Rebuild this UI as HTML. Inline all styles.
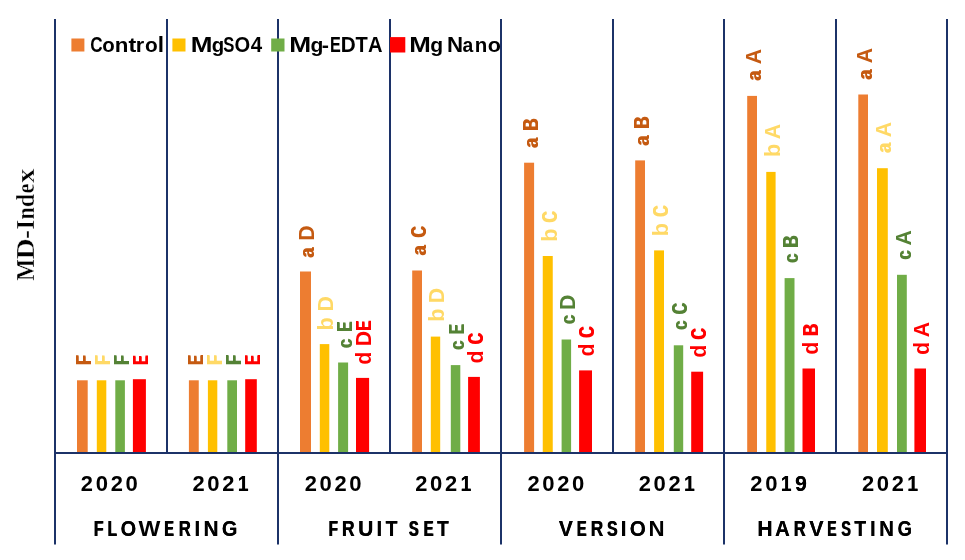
<!DOCTYPE html>
<html><head><meta charset="utf-8"><style>
html,body{margin:0;padding:0;background:#fff;width:965px;height:560px;overflow:hidden}
svg{display:block;will-change:transform}
.b{font-family:"Liberation Sans",sans-serif;font-weight:bold}
</style></head><body>
<svg width="965" height="560" viewBox="0 0 965 560">
<rect width="965" height="560" fill="#ffffff"/>
<rect x="77" y="380.3" width="10.70" height="72.70" fill="#ED7D31"/>
<rect x="96.8" y="380.3" width="9.50" height="72.70" fill="#FFC000"/>
<rect x="115.3" y="380.3" width="9.60" height="72.70" fill="#70AD47"/>
<rect x="132.9" y="379.2" width="13.00" height="73.80" fill="#FF0000"/>
<rect x="188.9" y="380.3" width="9.85" height="72.70" fill="#ED7D31"/>
<rect x="207.9" y="380.3" width="9.40" height="72.70" fill="#FFC000"/>
<rect x="227.3" y="380.3" width="9.70" height="72.70" fill="#70AD47"/>
<rect x="245.2" y="379.2" width="11.60" height="73.80" fill="#FF0000"/>
<rect x="300" y="271.5" width="11.00" height="181.50" fill="#ED7D31"/>
<rect x="319.8" y="344.1" width="9.50" height="108.90" fill="#FFC000"/>
<rect x="338.1" y="362.5" width="10.00" height="90.50" fill="#70AD47"/>
<rect x="356" y="377.9" width="13.10" height="75.10" fill="#FF0000"/>
<rect x="412.2" y="270.5" width="9.80" height="182.50" fill="#ED7D31"/>
<rect x="430.8" y="336.6" width="9.40" height="116.40" fill="#FFC000"/>
<rect x="450.8" y="365.1" width="9.50" height="87.90" fill="#70AD47"/>
<rect x="468.1" y="376.9" width="11.80" height="76.10" fill="#FF0000"/>
<rect x="524.1" y="162.7" width="10.00" height="290.30" fill="#ED7D31"/>
<rect x="542.75" y="256" width="10.00" height="197.00" fill="#FFC000"/>
<rect x="561.6" y="339.5" width="9.50" height="113.50" fill="#70AD47"/>
<rect x="579.1" y="370.4" width="12.90" height="82.60" fill="#FF0000"/>
<rect x="635.2" y="160.4" width="9.80" height="292.60" fill="#ED7D31"/>
<rect x="654.1" y="250.4" width="9.90" height="202.60" fill="#FFC000"/>
<rect x="673.8" y="345.3" width="9.40" height="107.70" fill="#70AD47"/>
<rect x="691.2" y="371.7" width="11.90" height="81.30" fill="#FF0000"/>
<rect x="747.2" y="95.9" width="9.80" height="357.10" fill="#ED7D31"/>
<rect x="766.25" y="171.9" width="9.35" height="281.10" fill="#FFC000"/>
<rect x="784.6" y="278.1" width="9.90" height="174.90" fill="#70AD47"/>
<rect x="802.5" y="368.5" width="12.50" height="84.50" fill="#FF0000"/>
<rect x="858.3" y="94.5" width="9.70" height="358.50" fill="#ED7D31"/>
<rect x="877" y="168.2" width="10.80" height="284.80" fill="#FFC000"/>
<rect x="897" y="274.8" width="9.80" height="178.20" fill="#70AD47"/>
<rect x="914.4" y="368.5" width="11.60" height="84.50" fill="#FF0000"/>
<text transform="translate(91.25,365.34) rotate(-90) scale(0.677,0.930)" font-size="23" style="font-family:'Liberation Sans',sans-serif;font-weight:bold" fill="#C55A11">F</text><text transform="translate(91.25,364.34) rotate(-90) scale(0.677,0.930)" font-size="23" style="font-family:'Liberation Sans',sans-serif;font-weight:bold" fill="#C55A11">F</text>
<text transform="translate(110.45,365.34) rotate(-90) scale(0.677,0.930)" font-size="23" style="font-family:'Liberation Sans',sans-serif;font-weight:bold" fill="#FFD966">F</text><text transform="translate(110.45,364.34) rotate(-90) scale(0.677,0.930)" font-size="23" style="font-family:'Liberation Sans',sans-serif;font-weight:bold" fill="#FFD966">F</text>
<text transform="translate(129.00,365.34) rotate(-90) scale(0.677,0.930)" font-size="23" style="font-family:'Liberation Sans',sans-serif;font-weight:bold" fill="#548235">F</text><text transform="translate(129.00,364.34) rotate(-90) scale(0.677,0.930)" font-size="23" style="font-family:'Liberation Sans',sans-serif;font-weight:bold" fill="#548235">F</text>
<text transform="translate(148.30,365.24) rotate(-90) scale(0.612,0.930)" font-size="23" style="font-family:'Liberation Sans',sans-serif;font-weight:bold" fill="#FF0000">E</text><text transform="translate(148.30,364.24) rotate(-90) scale(0.612,0.930)" font-size="23" style="font-family:'Liberation Sans',sans-serif;font-weight:bold" fill="#FF0000">E</text>
<text transform="translate(202.72,365.18) rotate(-90) scale(0.635,0.930)" font-size="23" style="font-family:'Liberation Sans',sans-serif;font-weight:bold" fill="#C55A11">E</text><text transform="translate(202.72,364.18) rotate(-90) scale(0.635,0.930)" font-size="23" style="font-family:'Liberation Sans',sans-serif;font-weight:bold" fill="#C55A11">E</text>
<text transform="translate(221.50,365.28) rotate(-90) scale(0.703,0.930)" font-size="23" style="font-family:'Liberation Sans',sans-serif;font-weight:bold" fill="#FFD966">F</text><text transform="translate(221.50,364.28) rotate(-90) scale(0.703,0.930)" font-size="23" style="font-family:'Liberation Sans',sans-serif;font-weight:bold" fill="#FFD966">F</text>
<text transform="translate(241.05,365.28) rotate(-90) scale(0.703,0.930)" font-size="23" style="font-family:'Liberation Sans',sans-serif;font-weight:bold" fill="#548235">F</text><text transform="translate(241.05,364.28) rotate(-90) scale(0.703,0.930)" font-size="23" style="font-family:'Liberation Sans',sans-serif;font-weight:bold" fill="#548235">F</text>
<text transform="translate(259.90,365.18) rotate(-90) scale(0.635,0.930)" font-size="23" style="font-family:'Liberation Sans',sans-serif;font-weight:bold" fill="#FF0000">E</text><text transform="translate(259.90,364.18) rotate(-90) scale(0.635,0.930)" font-size="23" style="font-family:'Liberation Sans',sans-serif;font-weight:bold" fill="#FF0000">E</text>
<text transform="translate(314.40,258.12) rotate(-90) scale(0.775,0.910)" font-size="23" style="font-family:'Liberation Sans',sans-serif;font-weight:bold" fill="#C55A11">a</text><text transform="translate(314.40,257.12) rotate(-90) scale(0.775,0.910)" font-size="23" style="font-family:'Liberation Sans',sans-serif;font-weight:bold" fill="#C55A11">a</text>
<text transform="translate(314.40,240.82) rotate(-90) scale(0.922,0.930)" font-size="23" style="font-family:'Liberation Sans',sans-serif;font-weight:bold" fill="#C55A11">D</text>
<text transform="translate(333.45,330.53) rotate(-90) scale(0.940,0.930)" font-size="23" style="font-family:'Liberation Sans',sans-serif;font-weight:bold" fill="#FFD966">b</text>
<text transform="translate(333.45,311.62) rotate(-90) scale(0.922,0.930)" font-size="23" style="font-family:'Liberation Sans',sans-serif;font-weight:bold" fill="#FFD966">D</text>
<text transform="translate(352.00,348.44) rotate(-90) scale(0.713,0.910)" font-size="23" style="font-family:'Liberation Sans',sans-serif;font-weight:bold" fill="#548235">c</text><text transform="translate(352.00,347.44) rotate(-90) scale(0.713,0.910)" font-size="23" style="font-family:'Liberation Sans',sans-serif;font-weight:bold" fill="#548235">c</text>
<text transform="translate(352.00,331.89) rotate(-90) scale(0.643,0.930)" font-size="23" style="font-family:'Liberation Sans',sans-serif;font-weight:bold" fill="#548235">E</text><text transform="translate(352.00,330.89) rotate(-90) scale(0.643,0.930)" font-size="23" style="font-family:'Liberation Sans',sans-serif;font-weight:bold" fill="#548235">E</text>
<text transform="translate(371.45,364.68) rotate(-90) scale(0.932,0.930)" font-size="23" style="font-family:'Liberation Sans',sans-serif;font-weight:bold" fill="#FF0000">d</text>
<text transform="translate(371.45,330.89) rotate(-90) scale(0.643,0.930)" font-size="23" style="font-family:'Liberation Sans',sans-serif;font-weight:bold" fill="#FF0000">E</text><text transform="translate(371.45,329.89) rotate(-90) scale(0.643,0.930)" font-size="23" style="font-family:'Liberation Sans',sans-serif;font-weight:bold" fill="#FF0000">E</text>
<text transform="translate(371.45,346.22) rotate(-90) scale(0.922,0.930)" font-size="23" style="font-family:'Liberation Sans',sans-serif;font-weight:bold" fill="#FF0000">D</text>
<text transform="translate(426.00,255.82) rotate(-90) scale(0.775,0.910)" font-size="23" style="font-family:'Liberation Sans',sans-serif;font-weight:bold" fill="#C55A11">a</text><text transform="translate(426.00,254.82) rotate(-90) scale(0.775,0.910)" font-size="23" style="font-family:'Liberation Sans',sans-serif;font-weight:bold" fill="#C55A11">a</text>
<text transform="translate(426.00,237.95) rotate(-90) scale(0.685,0.930)" font-size="23" style="font-family:'Liberation Sans',sans-serif;font-weight:bold" fill="#C55A11">C</text><text transform="translate(426.00,236.95) rotate(-90) scale(0.685,0.930)" font-size="23" style="font-family:'Liberation Sans',sans-serif;font-weight:bold" fill="#C55A11">C</text>
<text transform="translate(444.40,321.73) rotate(-90) scale(0.940,0.930)" font-size="23" style="font-family:'Liberation Sans',sans-serif;font-weight:bold" fill="#FFD966">b</text>
<text transform="translate(444.40,303.22) rotate(-90) scale(0.922,0.930)" font-size="23" style="font-family:'Liberation Sans',sans-serif;font-weight:bold" fill="#FFD966">D</text>
<text transform="translate(464.45,350.34) rotate(-90) scale(0.713,0.910)" font-size="23" style="font-family:'Liberation Sans',sans-serif;font-weight:bold" fill="#548235">c</text><text transform="translate(464.45,349.34) rotate(-90) scale(0.713,0.910)" font-size="23" style="font-family:'Liberation Sans',sans-serif;font-weight:bold" fill="#548235">c</text>
<text transform="translate(464.45,334.49) rotate(-90) scale(0.643,0.930)" font-size="23" style="font-family:'Liberation Sans',sans-serif;font-weight:bold" fill="#548235">E</text><text transform="translate(464.45,333.49) rotate(-90) scale(0.643,0.930)" font-size="23" style="font-family:'Liberation Sans',sans-serif;font-weight:bold" fill="#548235">E</text>
<text transform="translate(482.90,363.38) rotate(-90) scale(0.932,0.930)" font-size="23" style="font-family:'Liberation Sans',sans-serif;font-weight:bold" fill="#FF0000">d</text>
<text transform="translate(482.90,344.65) rotate(-90) scale(0.685,0.930)" font-size="23" style="font-family:'Liberation Sans',sans-serif;font-weight:bold" fill="#FF0000">C</text><text transform="translate(482.90,343.65) rotate(-90) scale(0.685,0.930)" font-size="23" style="font-family:'Liberation Sans',sans-serif;font-weight:bold" fill="#FF0000">C</text>
<text transform="translate(538.00,148.32) rotate(-90) scale(0.775,0.910)" font-size="23" style="font-family:'Liberation Sans',sans-serif;font-weight:bold" fill="#C55A11">a</text><text transform="translate(538.00,147.32) rotate(-90) scale(0.775,0.910)" font-size="23" style="font-family:'Liberation Sans',sans-serif;font-weight:bold" fill="#C55A11">a</text>
<text transform="translate(538.00,131.12) rotate(-90) scale(0.727,0.930)" font-size="23" style="font-family:'Liberation Sans',sans-serif;font-weight:bold" fill="#C55A11">B</text><text transform="translate(538.00,130.12) rotate(-90) scale(0.727,0.930)" font-size="23" style="font-family:'Liberation Sans',sans-serif;font-weight:bold" fill="#C55A11">B</text>
<text transform="translate(556.65,241.68) rotate(-90) scale(0.940,0.930)" font-size="23" style="font-family:'Liberation Sans',sans-serif;font-weight:bold" fill="#FFD966">b</text>
<text transform="translate(556.65,222.95) rotate(-90) scale(0.685,0.930)" font-size="23" style="font-family:'Liberation Sans',sans-serif;font-weight:bold" fill="#FFD966">C</text><text transform="translate(556.65,221.95) rotate(-90) scale(0.685,0.930)" font-size="23" style="font-family:'Liberation Sans',sans-serif;font-weight:bold" fill="#FFD966">C</text>
<text transform="translate(575.25,324.54) rotate(-90) scale(0.713,0.910)" font-size="23" style="font-family:'Liberation Sans',sans-serif;font-weight:bold" fill="#548235">c</text><text transform="translate(575.25,323.54) rotate(-90) scale(0.713,0.910)" font-size="23" style="font-family:'Liberation Sans',sans-serif;font-weight:bold" fill="#548235">c</text>
<text transform="translate(575.25,310.12) rotate(-90) scale(0.922,0.930)" font-size="23" style="font-family:'Liberation Sans',sans-serif;font-weight:bold" fill="#548235">D</text>
<text transform="translate(594.45,356.38) rotate(-90) scale(0.932,0.930)" font-size="23" style="font-family:'Liberation Sans',sans-serif;font-weight:bold" fill="#FF0000">d</text>
<text transform="translate(594.45,338.35) rotate(-90) scale(0.685,0.930)" font-size="23" style="font-family:'Liberation Sans',sans-serif;font-weight:bold" fill="#FF0000">C</text><text transform="translate(594.45,337.35) rotate(-90) scale(0.685,0.930)" font-size="23" style="font-family:'Liberation Sans',sans-serif;font-weight:bold" fill="#FF0000">C</text>
<text transform="translate(649.00,145.92) rotate(-90) scale(0.775,0.910)" font-size="23" style="font-family:'Liberation Sans',sans-serif;font-weight:bold" fill="#C55A11">a</text><text transform="translate(649.00,144.92) rotate(-90) scale(0.775,0.910)" font-size="23" style="font-family:'Liberation Sans',sans-serif;font-weight:bold" fill="#C55A11">a</text>
<text transform="translate(649.00,128.92) rotate(-90) scale(0.727,0.930)" font-size="23" style="font-family:'Liberation Sans',sans-serif;font-weight:bold" fill="#C55A11">B</text><text transform="translate(649.00,127.92) rotate(-90) scale(0.727,0.930)" font-size="23" style="font-family:'Liberation Sans',sans-serif;font-weight:bold" fill="#C55A11">B</text>
<text transform="translate(667.95,236.23) rotate(-90) scale(0.940,0.930)" font-size="23" style="font-family:'Liberation Sans',sans-serif;font-weight:bold" fill="#FFD966">b</text>
<text transform="translate(667.95,217.35) rotate(-90) scale(0.685,0.930)" font-size="23" style="font-family:'Liberation Sans',sans-serif;font-weight:bold" fill="#FFD966">C</text><text transform="translate(667.95,216.35) rotate(-90) scale(0.685,0.930)" font-size="23" style="font-family:'Liberation Sans',sans-serif;font-weight:bold" fill="#FFD966">C</text>
<text transform="translate(687.40,330.24) rotate(-90) scale(0.713,0.910)" font-size="23" style="font-family:'Liberation Sans',sans-serif;font-weight:bold" fill="#548235">c</text><text transform="translate(687.40,329.24) rotate(-90) scale(0.713,0.910)" font-size="23" style="font-family:'Liberation Sans',sans-serif;font-weight:bold" fill="#548235">c</text>
<text transform="translate(687.40,314.65) rotate(-90) scale(0.685,0.930)" font-size="23" style="font-family:'Liberation Sans',sans-serif;font-weight:bold" fill="#548235">C</text><text transform="translate(687.40,313.65) rotate(-90) scale(0.685,0.930)" font-size="23" style="font-family:'Liberation Sans',sans-serif;font-weight:bold" fill="#548235">C</text>
<text transform="translate(706.05,357.78) rotate(-90) scale(0.932,0.930)" font-size="23" style="font-family:'Liberation Sans',sans-serif;font-weight:bold" fill="#FF0000">d</text>
<text transform="translate(706.05,339.95) rotate(-90) scale(0.685,0.930)" font-size="23" style="font-family:'Liberation Sans',sans-serif;font-weight:bold" fill="#FF0000">C</text><text transform="translate(706.05,338.95) rotate(-90) scale(0.685,0.930)" font-size="23" style="font-family:'Liberation Sans',sans-serif;font-weight:bold" fill="#FF0000">C</text>
<text transform="translate(761.00,81.12) rotate(-90) scale(0.775,0.910)" font-size="23" style="font-family:'Liberation Sans',sans-serif;font-weight:bold" fill="#C55A11">a</text><text transform="translate(761.00,80.12) rotate(-90) scale(0.775,0.910)" font-size="23" style="font-family:'Liberation Sans',sans-serif;font-weight:bold" fill="#C55A11">a</text>
<text transform="translate(761.00,64.33) rotate(-90) scale(0.927,0.930)" font-size="23" style="font-family:'Liberation Sans',sans-serif;font-weight:bold" fill="#C55A11">A</text>
<text transform="translate(779.82,157.03) rotate(-90) scale(0.940,0.930)" font-size="23" style="font-family:'Liberation Sans',sans-serif;font-weight:bold" fill="#FFD966">b</text>
<text transform="translate(779.82,139.23) rotate(-90) scale(0.927,0.930)" font-size="23" style="font-family:'Liberation Sans',sans-serif;font-weight:bold" fill="#FFD966">A</text>
<text transform="translate(798.45,263.34) rotate(-90) scale(0.713,0.910)" font-size="23" style="font-family:'Liberation Sans',sans-serif;font-weight:bold" fill="#548235">c</text><text transform="translate(798.45,262.34) rotate(-90) scale(0.713,0.910)" font-size="23" style="font-family:'Liberation Sans',sans-serif;font-weight:bold" fill="#548235">c</text>
<text transform="translate(798.45,248.02) rotate(-90) scale(0.727,0.930)" font-size="23" style="font-family:'Liberation Sans',sans-serif;font-weight:bold" fill="#548235">B</text><text transform="translate(798.45,247.02) rotate(-90) scale(0.727,0.930)" font-size="23" style="font-family:'Liberation Sans',sans-serif;font-weight:bold" fill="#548235">B</text>
<text transform="translate(817.65,354.63) rotate(-90) scale(0.932,0.930)" font-size="23" style="font-family:'Liberation Sans',sans-serif;font-weight:bold" fill="#FF0000">d</text>
<text transform="translate(817.65,336.32) rotate(-90) scale(0.727,0.930)" font-size="23" style="font-family:'Liberation Sans',sans-serif;font-weight:bold" fill="#FF0000">B</text><text transform="translate(817.65,335.32) rotate(-90) scale(0.727,0.930)" font-size="23" style="font-family:'Liberation Sans',sans-serif;font-weight:bold" fill="#FF0000">B</text>
<text transform="translate(872.05,79.92) rotate(-90) scale(0.775,0.910)" font-size="23" style="font-family:'Liberation Sans',sans-serif;font-weight:bold" fill="#C55A11">a</text><text transform="translate(872.05,78.92) rotate(-90) scale(0.775,0.910)" font-size="23" style="font-family:'Liberation Sans',sans-serif;font-weight:bold" fill="#C55A11">a</text>
<text transform="translate(872.05,63.23) rotate(-90) scale(0.927,0.930)" font-size="23" style="font-family:'Liberation Sans',sans-serif;font-weight:bold" fill="#C55A11">A</text>
<text transform="translate(891.30,153.32) rotate(-90) scale(0.775,0.910)" font-size="23" style="font-family:'Liberation Sans',sans-serif;font-weight:bold" fill="#FFD966">a</text><text transform="translate(891.30,152.32) rotate(-90) scale(0.775,0.910)" font-size="23" style="font-family:'Liberation Sans',sans-serif;font-weight:bold" fill="#FFD966">a</text>
<text transform="translate(891.30,137.13) rotate(-90) scale(0.927,0.930)" font-size="23" style="font-family:'Liberation Sans',sans-serif;font-weight:bold" fill="#FFD966">A</text>
<text transform="translate(910.80,260.04) rotate(-90) scale(0.713,0.910)" font-size="23" style="font-family:'Liberation Sans',sans-serif;font-weight:bold" fill="#548235">c</text><text transform="translate(910.80,259.04) rotate(-90) scale(0.713,0.910)" font-size="23" style="font-family:'Liberation Sans',sans-serif;font-weight:bold" fill="#548235">c</text>
<text transform="translate(910.80,245.53) rotate(-90) scale(0.927,0.930)" font-size="23" style="font-family:'Liberation Sans',sans-serif;font-weight:bold" fill="#548235">A</text>
<text transform="translate(929.10,354.88) rotate(-90) scale(0.932,0.930)" font-size="23" style="font-family:'Liberation Sans',sans-serif;font-weight:bold" fill="#FF0000">d</text>
<text transform="translate(929.10,337.33) rotate(-90) scale(0.927,0.930)" font-size="23" style="font-family:'Liberation Sans',sans-serif;font-weight:bold" fill="#FF0000">A</text>
<rect x="54" y="452" width="894" height="2" fill="#1c3268"/>
<rect x="54" y="19" width="2" height="525.5" fill="#1c3268"/>
<rect x="166" y="19" width="2" height="434" fill="#1c3268"/>
<rect x="277" y="19" width="2" height="525.5" fill="#1c3268"/>
<rect x="389" y="19" width="2" height="434" fill="#1c3268"/>
<rect x="500" y="19" width="2" height="525.5" fill="#1c3268"/>
<rect x="612" y="19" width="2" height="434" fill="#1c3268"/>
<rect x="723" y="19" width="2" height="525.5" fill="#1c3268"/>
<rect x="835" y="19" width="2" height="434" fill="#1c3268"/>
<rect x="946" y="19" width="2" height="525.5" fill="#1c3268"/>
<rect x="71.4" y="38.5" width="13" height="13" fill="#ED7D31"/>
<text transform="translate(90.30,52.4) scale(0.816,1.050)" font-size="21" style="font-family:'Liberation Sans',sans-serif;font-weight:bold" fill="#000">C</text>
<text transform="translate(102.30,52.4) scale(0.974,0.920)" font-size="21" style="font-family:'Liberation Sans',sans-serif;font-weight:bold" fill="#000">o</text>
<text transform="translate(114.63,52.4) scale(1.065,0.920)" font-size="21" style="font-family:'Liberation Sans',sans-serif;font-weight:bold" fill="#000">n</text>
<text transform="translate(128.42,52.4) scale(1.111,1.000)" font-size="21" style="font-family:'Liberation Sans',sans-serif;font-weight:bold" fill="#000">t</text>
<text transform="translate(135.87,52.4) scale(1.036,0.920)" font-size="21" style="font-family:'Liberation Sans',sans-serif;font-weight:bold" fill="#000">r</text>
<text transform="translate(145.09,52.4) scale(0.992,0.920)" font-size="21" style="font-family:'Liberation Sans',sans-serif;font-weight:bold" fill="#000">o</text>
<text transform="translate(157.72,52.4) scale(1.076,1.080)" font-size="21" style="font-family:'Liberation Sans',sans-serif;font-weight:bold" fill="#000">l</text>
<rect x="172.4" y="38.5" width="13.1" height="13" fill="#FFC000"/>
<text transform="translate(190.75,52.4) scale(1.243,1.050)" font-size="21" style="font-family:'Liberation Sans',sans-serif;font-weight:bold" fill="#000">M</text>
<text transform="translate(211.66,52.4) scale(0.971,0.920)" font-size="21" style="font-family:'Liberation Sans',sans-serif;font-weight:bold" fill="#000">g</text>
<text transform="translate(223.27,52.4) scale(0.795,1.050)" font-size="21" style="font-family:'Liberation Sans',sans-serif;font-weight:bold" fill="#000">S</text>
<text transform="translate(234.42,52.4) scale(0.959,1.050)" font-size="21" style="font-family:'Liberation Sans',sans-serif;font-weight:bold" fill="#000">O</text>
<text transform="translate(250.69,52.4) scale(0.978,1.050)" font-size="21" style="font-family:'Liberation Sans',sans-serif;font-weight:bold" fill="#000">4</text>
<rect x="271.2" y="38.5" width="13.3" height="13" fill="#70AD47"/>
<text transform="translate(289.34,52.4) scale(1.253,1.050)" font-size="21" style="font-family:'Liberation Sans',sans-serif;font-weight:bold" fill="#000">M</text>
<text transform="translate(310.44,52.4) scale(1.004,0.920)" font-size="21" style="font-family:'Liberation Sans',sans-serif;font-weight:bold" fill="#000">g</text>
<text transform="translate(321.85,52.4) scale(1.032,1.000)" font-size="21" style="font-family:'Liberation Sans',sans-serif;font-weight:bold" fill="#000">-</text>
<text transform="translate(329.91,52.4) scale(0.772,1.050)" font-size="21" style="font-family:'Liberation Sans',sans-serif;font-weight:bold" fill="#000">E</text>
<text transform="translate(340.81,52.4) scale(0.986,1.050)" font-size="21" style="font-family:'Liberation Sans',sans-serif;font-weight:bold" fill="#000">D</text>
<text transform="translate(355.57,52.4) scale(0.954,1.050)" font-size="21" style="font-family:'Liberation Sans',sans-serif;font-weight:bold" fill="#000">T</text>
<text transform="translate(368.00,52.4) scale(0.958,1.050)" font-size="21" style="font-family:'Liberation Sans',sans-serif;font-weight:bold" fill="#000">A</text>
<rect x="390" y="37.1" width="15.3" height="15.4" fill="#FF0000"/>
<text transform="translate(409.37,52.4) scale(1.233,1.050)" font-size="21" style="font-family:'Liberation Sans',sans-serif;font-weight:bold" fill="#000">M</text>
<text transform="translate(430.24,52.4) scale(1.004,0.920)" font-size="21" style="font-family:'Liberation Sans',sans-serif;font-weight:bold" fill="#000">g</text>
<text transform="translate(446.91,52.4) scale(1.061,1.050)" font-size="21" style="font-family:'Liberation Sans',sans-serif;font-weight:bold" fill="#000">N</text>
<text transform="translate(462.43,52.4) scale(0.920,0.920)" font-size="21" style="font-family:'Liberation Sans',sans-serif;font-weight:bold" fill="#000">a</text>
<text transform="translate(474.75,52.4) scale(0.976,0.920)" font-size="21" style="font-family:'Liberation Sans',sans-serif;font-weight:bold" fill="#000">n</text>
<text transform="translate(487.66,52.4) scale(1.028,0.920)" font-size="21" style="font-family:'Liberation Sans',sans-serif;font-weight:bold" fill="#000">o</text>
<text transform="translate(80.84,491.2) scale(0.995,1.000)" font-size="22" style="font-family:'Liberation Sans',sans-serif;font-weight:bold" fill="#000">2</text>
<text transform="translate(95.63,491.2) scale(1.004,1.000)" font-size="22" style="font-family:'Liberation Sans',sans-serif;font-weight:bold" fill="#000">0</text>
<text transform="translate(110.64,491.2) scale(0.995,1.000)" font-size="22" style="font-family:'Liberation Sans',sans-serif;font-weight:bold" fill="#000">2</text>
<text transform="translate(125.43,491.2) scale(1.004,1.000)" font-size="22" style="font-family:'Liberation Sans',sans-serif;font-weight:bold" fill="#000">0</text>
<text transform="translate(192.44,491.2) scale(0.995,1.000)" font-size="22" style="font-family:'Liberation Sans',sans-serif;font-weight:bold" fill="#000">2</text>
<text transform="translate(207.23,491.2) scale(1.004,1.000)" font-size="22" style="font-family:'Liberation Sans',sans-serif;font-weight:bold" fill="#000">0</text>
<text transform="translate(222.24,491.2) scale(0.995,1.000)" font-size="22" style="font-family:'Liberation Sans',sans-serif;font-weight:bold" fill="#000">2</text>
<text transform="translate(237.70,491.2) scale(0.869,1.000)" font-size="22" style="font-family:'Liberation Sans',sans-serif;font-weight:bold" fill="#000">1</text><text transform="translate(238.00,491.2) scale(0.869,1.000)" font-size="22" style="font-family:'Liberation Sans',sans-serif;font-weight:bold" fill="#000">1</text>
<text transform="translate(304.64,491.2) scale(0.995,1.000)" font-size="22" style="font-family:'Liberation Sans',sans-serif;font-weight:bold" fill="#000">2</text>
<text transform="translate(319.43,491.2) scale(1.004,1.000)" font-size="22" style="font-family:'Liberation Sans',sans-serif;font-weight:bold" fill="#000">0</text>
<text transform="translate(334.44,491.2) scale(0.995,1.000)" font-size="22" style="font-family:'Liberation Sans',sans-serif;font-weight:bold" fill="#000">2</text>
<text transform="translate(349.23,491.2) scale(1.004,1.000)" font-size="22" style="font-family:'Liberation Sans',sans-serif;font-weight:bold" fill="#000">0</text>
<text transform="translate(415.24,491.2) scale(0.995,1.000)" font-size="22" style="font-family:'Liberation Sans',sans-serif;font-weight:bold" fill="#000">2</text>
<text transform="translate(430.03,491.2) scale(1.004,1.000)" font-size="22" style="font-family:'Liberation Sans',sans-serif;font-weight:bold" fill="#000">0</text>
<text transform="translate(445.04,491.2) scale(0.995,1.000)" font-size="22" style="font-family:'Liberation Sans',sans-serif;font-weight:bold" fill="#000">2</text>
<text transform="translate(460.50,491.2) scale(0.869,1.000)" font-size="22" style="font-family:'Liberation Sans',sans-serif;font-weight:bold" fill="#000">1</text><text transform="translate(460.80,491.2) scale(0.869,1.000)" font-size="22" style="font-family:'Liberation Sans',sans-serif;font-weight:bold" fill="#000">1</text>
<text transform="translate(527.44,491.2) scale(0.995,1.000)" font-size="22" style="font-family:'Liberation Sans',sans-serif;font-weight:bold" fill="#000">2</text>
<text transform="translate(542.23,491.2) scale(1.004,1.000)" font-size="22" style="font-family:'Liberation Sans',sans-serif;font-weight:bold" fill="#000">0</text>
<text transform="translate(557.24,491.2) scale(0.995,1.000)" font-size="22" style="font-family:'Liberation Sans',sans-serif;font-weight:bold" fill="#000">2</text>
<text transform="translate(572.03,491.2) scale(1.004,1.000)" font-size="22" style="font-family:'Liberation Sans',sans-serif;font-weight:bold" fill="#000">0</text>
<text transform="translate(638.74,491.2) scale(0.995,1.000)" font-size="22" style="font-family:'Liberation Sans',sans-serif;font-weight:bold" fill="#000">2</text>
<text transform="translate(653.53,491.2) scale(1.004,1.000)" font-size="22" style="font-family:'Liberation Sans',sans-serif;font-weight:bold" fill="#000">0</text>
<text transform="translate(668.54,491.2) scale(0.995,1.000)" font-size="22" style="font-family:'Liberation Sans',sans-serif;font-weight:bold" fill="#000">2</text>
<text transform="translate(684.00,491.2) scale(0.869,1.000)" font-size="22" style="font-family:'Liberation Sans',sans-serif;font-weight:bold" fill="#000">1</text><text transform="translate(684.30,491.2) scale(0.869,1.000)" font-size="22" style="font-family:'Liberation Sans',sans-serif;font-weight:bold" fill="#000">1</text>
<text transform="translate(750.34,491.2) scale(0.995,1.000)" font-size="22" style="font-family:'Liberation Sans',sans-serif;font-weight:bold" fill="#000">2</text>
<text transform="translate(765.13,491.2) scale(1.004,1.000)" font-size="22" style="font-family:'Liberation Sans',sans-serif;font-weight:bold" fill="#000">0</text>
<text transform="translate(780.70,491.2) scale(0.869,1.000)" font-size="22" style="font-family:'Liberation Sans',sans-serif;font-weight:bold" fill="#000">1</text><text transform="translate(781.00,491.2) scale(0.869,1.000)" font-size="22" style="font-family:'Liberation Sans',sans-serif;font-weight:bold" fill="#000">1</text>
<text transform="translate(795.07,491.2) scale(0.957,1.000)" font-size="22" style="font-family:'Liberation Sans',sans-serif;font-weight:bold" fill="#000">9</text><text transform="translate(795.17,491.2) scale(0.957,1.000)" font-size="22" style="font-family:'Liberation Sans',sans-serif;font-weight:bold" fill="#000">9</text>
<text transform="translate(862.04,491.2) scale(0.995,1.000)" font-size="22" style="font-family:'Liberation Sans',sans-serif;font-weight:bold" fill="#000">2</text>
<text transform="translate(876.83,491.2) scale(1.004,1.000)" font-size="22" style="font-family:'Liberation Sans',sans-serif;font-weight:bold" fill="#000">0</text>
<text transform="translate(891.84,491.2) scale(0.995,1.000)" font-size="22" style="font-family:'Liberation Sans',sans-serif;font-weight:bold" fill="#000">2</text>
<text transform="translate(907.30,491.2) scale(0.869,1.000)" font-size="22" style="font-family:'Liberation Sans',sans-serif;font-weight:bold" fill="#000">1</text><text transform="translate(907.60,491.2) scale(0.869,1.000)" font-size="22" style="font-family:'Liberation Sans',sans-serif;font-weight:bold" fill="#000">1</text>
<text transform="translate(93.54,536) scale(0.720,1.000)" font-size="22" style="font-family:'Liberation Sans',sans-serif;font-weight:bold" fill="#000">F</text><text transform="translate(94.20,536) scale(0.720,1.000)" font-size="22" style="font-family:'Liberation Sans',sans-serif;font-weight:bold" fill="#000">F</text>
<text transform="translate(107.37,536) scale(0.698,1.000)" font-size="22" style="font-family:'Liberation Sans',sans-serif;font-weight:bold" fill="#000">L</text><text transform="translate(108.09,536) scale(0.698,1.000)" font-size="22" style="font-family:'Liberation Sans',sans-serif;font-weight:bold" fill="#000">L</text>
<text transform="translate(120.48,536) scale(0.907,1.000)" font-size="22" style="font-family:'Liberation Sans',sans-serif;font-weight:bold" fill="#000">O</text><text transform="translate(120.71,536) scale(0.907,1.000)" font-size="22" style="font-family:'Liberation Sans',sans-serif;font-weight:bold" fill="#000">O</text>
<text transform="translate(138.48,536) scale(1.052,1.000)" font-size="22" style="font-family:'Liberation Sans',sans-serif;font-weight:bold" fill="#000">W</text>
<text transform="translate(164.07,536) scale(0.633,1.000)" font-size="22" style="font-family:'Liberation Sans',sans-serif;font-weight:bold" fill="#000">E</text><text transform="translate(164.95,536) scale(0.633,1.000)" font-size="22" style="font-family:'Liberation Sans',sans-serif;font-weight:bold" fill="#000">E</text>
<text transform="translate(178.38,536) scale(0.759,1.000)" font-size="22" style="font-family:'Liberation Sans',sans-serif;font-weight:bold" fill="#000">R</text><text transform="translate(178.98,536) scale(0.759,1.000)" font-size="22" style="font-family:'Liberation Sans',sans-serif;font-weight:bold" fill="#000">R</text>
<text transform="translate(194.26,536) scale(1.010,1.000)" font-size="22" style="font-family:'Liberation Sans',sans-serif;font-weight:bold" fill="#000">I</text>
<text transform="translate(203.40,536) scale(0.949,1.000)" font-size="22" style="font-family:'Liberation Sans',sans-serif;font-weight:bold" fill="#000">N</text><text transform="translate(203.53,536) scale(0.949,1.000)" font-size="22" style="font-family:'Liberation Sans',sans-serif;font-weight:bold" fill="#000">N</text>
<text transform="translate(221.78,536) scale(0.907,1.000)" font-size="22" style="font-family:'Liberation Sans',sans-serif;font-weight:bold" fill="#000">G</text><text transform="translate(222.01,536) scale(0.907,1.000)" font-size="22" style="font-family:'Liberation Sans',sans-serif;font-weight:bold" fill="#000">G</text>
<text transform="translate(328.37,536) scale(0.697,1.000)" font-size="22" style="font-family:'Liberation Sans',sans-serif;font-weight:bold" fill="#000">F</text><text transform="translate(329.09,536) scale(0.697,1.000)" font-size="22" style="font-family:'Liberation Sans',sans-serif;font-weight:bold" fill="#000">F</text>
<text transform="translate(341.83,536) scale(0.794,1.000)" font-size="22" style="font-family:'Liberation Sans',sans-serif;font-weight:bold" fill="#000">R</text><text transform="translate(342.34,536) scale(0.794,1.000)" font-size="22" style="font-family:'Liberation Sans',sans-serif;font-weight:bold" fill="#000">R</text>
<text transform="translate(358.03,536) scale(0.961,1.000)" font-size="22" style="font-family:'Liberation Sans',sans-serif;font-weight:bold" fill="#000">U</text><text transform="translate(358.13,536) scale(0.961,1.000)" font-size="22" style="font-family:'Liberation Sans',sans-serif;font-weight:bold" fill="#000">U</text>
<text transform="translate(376.31,536) scale(1.010,1.000)" font-size="22" style="font-family:'Liberation Sans',sans-serif;font-weight:bold" fill="#000">I</text>
<text transform="translate(385.58,536) scale(0.881,1.000)" font-size="22" style="font-family:'Liberation Sans',sans-serif;font-weight:bold" fill="#000">T</text><text transform="translate(385.87,536) scale(0.881,1.000)" font-size="22" style="font-family:'Liberation Sans',sans-serif;font-weight:bold" fill="#000">T</text>
<text transform="translate(408.58,536) scale(0.657,1.000)" font-size="22" style="font-family:'Liberation Sans',sans-serif;font-weight:bold" fill="#000">S</text><text transform="translate(409.42,536) scale(0.657,1.000)" font-size="22" style="font-family:'Liberation Sans',sans-serif;font-weight:bold" fill="#000">S</text>
<text transform="translate(423.32,536) scale(0.663,1.000)" font-size="22" style="font-family:'Liberation Sans',sans-serif;font-weight:bold" fill="#000">E</text><text transform="translate(424.14,536) scale(0.663,1.000)" font-size="22" style="font-family:'Liberation Sans',sans-serif;font-weight:bold" fill="#000">E</text>
<text transform="translate(436.99,536) scale(0.862,1.000)" font-size="22" style="font-family:'Liberation Sans',sans-serif;font-weight:bold" fill="#000">T</text><text transform="translate(437.32,536) scale(0.862,1.000)" font-size="22" style="font-family:'Liberation Sans',sans-serif;font-weight:bold" fill="#000">T</text>
<text transform="translate(558.76,536) scale(0.952,1.000)" font-size="22" style="font-family:'Liberation Sans',sans-serif;font-weight:bold" fill="#000">V</text><text transform="translate(558.88,536) scale(0.952,1.000)" font-size="22" style="font-family:'Liberation Sans',sans-serif;font-weight:bold" fill="#000">V</text>
<text transform="translate(576.42,536) scale(0.663,1.000)" font-size="22" style="font-family:'Liberation Sans',sans-serif;font-weight:bold" fill="#000">E</text><text transform="translate(577.24,536) scale(0.663,1.000)" font-size="22" style="font-family:'Liberation Sans',sans-serif;font-weight:bold" fill="#000">E</text>
<text transform="translate(590.54,536) scale(0.786,1.000)" font-size="22" style="font-family:'Liberation Sans',sans-serif;font-weight:bold" fill="#000">R</text><text transform="translate(591.07,536) scale(0.786,1.000)" font-size="22" style="font-family:'Liberation Sans',sans-serif;font-weight:bold" fill="#000">R</text>
<text transform="translate(606.85,536) scale(0.713,1.000)" font-size="22" style="font-family:'Liberation Sans',sans-serif;font-weight:bold" fill="#000">S</text><text transform="translate(607.55,536) scale(0.713,1.000)" font-size="22" style="font-family:'Liberation Sans',sans-serif;font-weight:bold" fill="#000">S</text>
<text transform="translate(620.41,536) scale(1.010,1.000)" font-size="22" style="font-family:'Liberation Sans',sans-serif;font-weight:bold" fill="#000">I</text>
<text transform="translate(629.65,536) scale(0.938,1.000)" font-size="22" style="font-family:'Liberation Sans',sans-serif;font-weight:bold" fill="#000">O</text><text transform="translate(629.81,536) scale(0.938,1.000)" font-size="22" style="font-family:'Liberation Sans',sans-serif;font-weight:bold" fill="#000">O</text>
<text transform="translate(648.51,536) scale(1.013,1.000)" font-size="22" style="font-family:'Liberation Sans',sans-serif;font-weight:bold" fill="#000">N</text>
<text transform="translate(757.29,536) scale(0.959,1.000)" font-size="22" style="font-family:'Liberation Sans',sans-serif;font-weight:bold" fill="#000">H</text><text transform="translate(757.39,536) scale(0.959,1.000)" font-size="22" style="font-family:'Liberation Sans',sans-serif;font-weight:bold" fill="#000">H</text>
<text transform="translate(775.10,536) scale(0.922,1.000)" font-size="22" style="font-family:'Liberation Sans',sans-serif;font-weight:bold" fill="#000">A</text><text transform="translate(775.29,536) scale(0.922,1.000)" font-size="22" style="font-family:'Liberation Sans',sans-serif;font-weight:bold" fill="#000">A</text>
<text transform="translate(793.51,536) scale(0.742,1.000)" font-size="22" style="font-family:'Liberation Sans',sans-serif;font-weight:bold" fill="#000">R</text><text transform="translate(794.14,536) scale(0.742,1.000)" font-size="22" style="font-family:'Liberation Sans',sans-serif;font-weight:bold" fill="#000">R</text>
<text transform="translate(809.15,536) scale(0.977,1.000)" font-size="22" style="font-family:'Liberation Sans',sans-serif;font-weight:bold" fill="#000">V</text><text transform="translate(809.21,536) scale(0.977,1.000)" font-size="22" style="font-family:'Liberation Sans',sans-serif;font-weight:bold" fill="#000">V</text>
<text transform="translate(826.88,536) scale(0.623,1.000)" font-size="22" style="font-family:'Liberation Sans',sans-serif;font-weight:bold" fill="#000">E</text><text transform="translate(827.79,536) scale(0.623,1.000)" font-size="22" style="font-family:'Liberation Sans',sans-serif;font-weight:bold" fill="#000">E</text>
<text transform="translate(840.89,536) scale(0.648,1.000)" font-size="22" style="font-family:'Liberation Sans',sans-serif;font-weight:bold" fill="#000">S</text><text transform="translate(841.75,536) scale(0.648,1.000)" font-size="22" style="font-family:'Liberation Sans',sans-serif;font-weight:bold" fill="#000">S</text>
<text transform="translate(854.18,536) scale(0.871,1.000)" font-size="22" style="font-family:'Liberation Sans',sans-serif;font-weight:bold" fill="#000">T</text><text transform="translate(854.50,536) scale(0.871,1.000)" font-size="22" style="font-family:'Liberation Sans',sans-serif;font-weight:bold" fill="#000">T</text>
<text transform="translate(869.71,536) scale(1.010,1.000)" font-size="22" style="font-family:'Liberation Sans',sans-serif;font-weight:bold" fill="#000">I</text>
<text transform="translate(879.15,536) scale(0.921,1.000)" font-size="22" style="font-family:'Liberation Sans',sans-serif;font-weight:bold" fill="#000">N</text><text transform="translate(879.34,536) scale(0.921,1.000)" font-size="22" style="font-family:'Liberation Sans',sans-serif;font-weight:bold" fill="#000">N</text>
<text transform="translate(897.45,536) scale(0.834,1.000)" font-size="22" style="font-family:'Liberation Sans',sans-serif;font-weight:bold" fill="#000">G</text><text transform="translate(897.86,536) scale(0.834,1.000)" font-size="22" style="font-family:'Liberation Sans',sans-serif;font-weight:bold" fill="#000">G</text>
<text transform="translate(34.00,280.80) rotate(-90) scale(0.950,1.000)" font-size="24.5" style="font-family:'Liberation Serif',serif;font-weight:bold" fill="#000" stroke="#fff" stroke-width="0.35">M</text>
<text transform="translate(34.00,259.41) rotate(-90) scale(1.195,1.000)" font-size="24.5" style="font-family:'Liberation Serif',serif;font-weight:bold" fill="#000" stroke="#fff" stroke-width="0.35">D</text>
<text transform="translate(34.00,238.99) rotate(-90) scale(1.100,1.000)" font-size="24.5" style="font-family:'Liberation Serif',serif;font-weight:bold" fill="#000" stroke="#fff" stroke-width="0.35">-</text>
<text transform="translate(34.00,229.85) rotate(-90) scale(1.027,1.000)" font-size="24.5" style="font-family:'Liberation Serif',serif;font-weight:bold" fill="#000" stroke="#fff" stroke-width="0.35">I</text>
<text transform="translate(34.00,219.50) rotate(-90) scale(0.905,1.000)" font-size="24.5" style="font-family:'Liberation Serif',serif;font-weight:bold" fill="#000" stroke="#fff" stroke-width="0.35">n</text>
<text transform="translate(34.00,207.17) rotate(-90) scale(0.979,1.000)" font-size="24.5" style="font-family:'Liberation Serif',serif;font-weight:bold" fill="#000" stroke="#fff" stroke-width="0.35">d</text>
<text transform="translate(34.00,193.57) rotate(-90) scale(0.925,1.000)" font-size="24.5" style="font-family:'Liberation Serif',serif;font-weight:bold" fill="#000" stroke="#fff" stroke-width="0.35">e</text>
<text transform="translate(34.00,182.91) rotate(-90) scale(1.173,1.000)" font-size="24.5" style="font-family:'Liberation Serif',serif;font-weight:bold" fill="#000" stroke="#fff" stroke-width="0.35">x</text>
</svg>
</body></html>
